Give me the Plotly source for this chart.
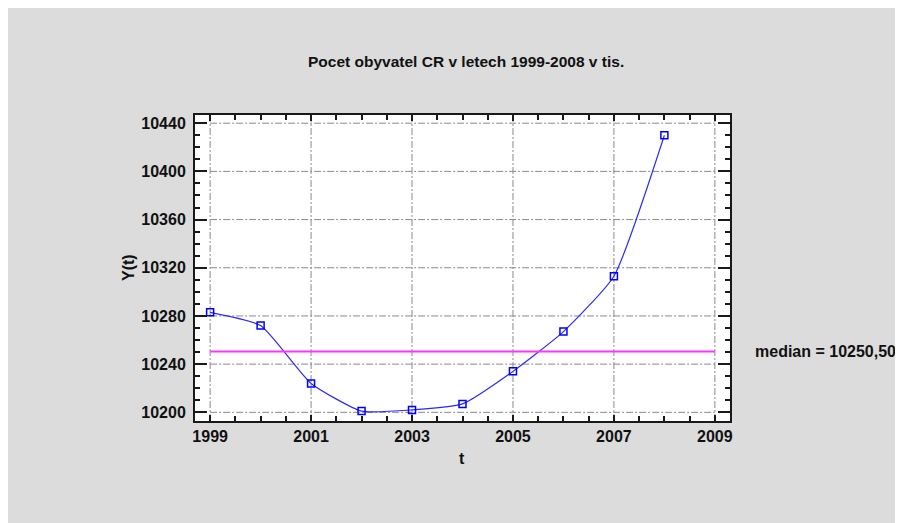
import numpy as np
import plotly.graph_objects as go

# ---- data ----
years = [1999, 2000, 2001, 2002, 2003, 2004, 2005, 2006, 2007, 2008]
population = [10283, 10272, 10224, 10201, 10202, 10207, 10234, 10267, 10313, 10430]
x_ticks = [1999, 2001, 2003, 2005, 2007, 2009]
y_ticks = [10200, 10240, 10280, 10320, 10360, 10400, 10440]
title_text = "Pocet obyvatel CR v letech 1999-2008 v tis."
x_title = "t"
y_title = "Y(t)"

median_val = float(np.median(population))
median_label = "median = " + f"{median_val:.2f}".replace(".", ",")

# page offset caused by the default 8px body margin
OFF = 8
W, H = 893, 515
L, R, T, B = 187, 171, 107, 102
pw, ph = W - L - R, H - T - B

def px_x(p):
    return (p - OFF - L) / pw

def px_y(p):
    return (H - B - (p - OFF)) / ph

FONT = "Liberation Sans, Arial, sans-serif"
TXT = "#111111"
BG = "#dcdcdc"

fig = go.Figure()

fig.add_trace(go.Scatter(
    x=years, y=population, mode="lines+markers",
    line=dict(color="#2a2aff", width=1.2, shape="spline", smoothing=0.5),
    marker=dict(symbol="square-open", size=7, color="#0000ff", line=dict(width=1.5, color="#0000ff")),
    showlegend=False, hoverinfo="x+y",
))

fig.add_trace(go.Scatter(
    x=[x_ticks[0], x_ticks[-1]], y=[median_val, median_val], mode="lines",
    line=dict(color="#ff33ff", width=2), showlegend=False, hoverinfo="skip",
))

shapes = []
grid = dict(color="#8a8a8a", width=1, dash="7px,2px,2px,2px")
for xv in x_ticks:
    shapes.append(dict(type="line", xref="x", yref="paper", x0=xv, x1=xv, y0=0, y1=1,
                       line=grid, layer="below"))
for yv in y_ticks:
    shapes.append(dict(type="line", xref="x", yref="y", x0=x_ticks[0], x1=x_ticks[-1], y0=yv, y1=yv,
                       line=grid, layer="below"))

annotations = [
    dict(text=title_text, xref="paper", yref="paper", x=px_x(465.5), y=px_y(62),
         xanchor="center", yanchor="middle", showarrow=False,
         font=dict(family=FONT, size=15.5, color=TXT, weight="bold")),
    dict(text=x_title, xref="paper", yref="paper", x=px_x(462), y=px_y(458),
         xanchor="center", yanchor="middle", showarrow=False,
         font=dict(family=FONT, size=16, color=TXT, weight="bold")),
    dict(text=y_title, xref="paper", yref="paper", x=px_x(128), y=px_y(268),
         xanchor="center", yanchor="middle", showarrow=False, textangle=-90,
         font=dict(family=FONT, size=16, color=TXT, weight="bold")),
    dict(text=median_label, xref="paper", yref="y", x=px_x(753), y=median_val,
         xanchor="left", yanchor="middle", showarrow=False,
         font=dict(family=FONT, size=16, color=TXT, weight="bold")),
    dict(text="y", xref="paper", yref="paper", x=px_x(210), y=px_y(6),
         xanchor="center", yanchor="bottom", showarrow=False,
         font=dict(family="DejaVu Serif", size=16, color="#333333", style="italic")),
]

axis_common = dict(
    showline=True, linecolor="#1a1a1a", linewidth=2, mirror="ticks",
    ticks="inside", tickcolor="#1a1a1a", tickwidth=1.5, showgrid=False, zeroline=False,
    tickfont=dict(family=FONT, size=16, color=TXT, weight="bold"),
)

fig.update_layout(
    width=W, height=H,
    margin=dict(l=L, r=R, t=T, b=B, pad=0),
    paper_bgcolor=BG, plot_bgcolor="white",
    shapes=shapes, annotations=annotations,
    xaxis=dict(range=[1998.70, 2009.30], tickvals=x_ticks, ticktext=[str(v) for v in x_ticks], ticklen=6,
               minor=dict(dtick=0.5, tick0=1999, ticks="inside", ticklen=5, tickcolor="#1a1a1a", tickwidth=1.5),
               ticklabelstandoff=0, **axis_common),
    yaxis=dict(range=[10192.8, 10446.8], tickvals=y_ticks, ticktext=[str(v) for v in y_ticks], ticklen=12,
               minor=dict(dtick=10, tick0=10200, ticks="inside", ticklen=5, tickcolor="#1a1a1a", tickwidth=1.5),
               ticklabelstandoff=4, **axis_common),
)

post = "document.querySelectorAll('svg.main-svg').forEach(function(s){s.style.overflow='visible';});"
fig.write_html("out.html", post_script=post)
